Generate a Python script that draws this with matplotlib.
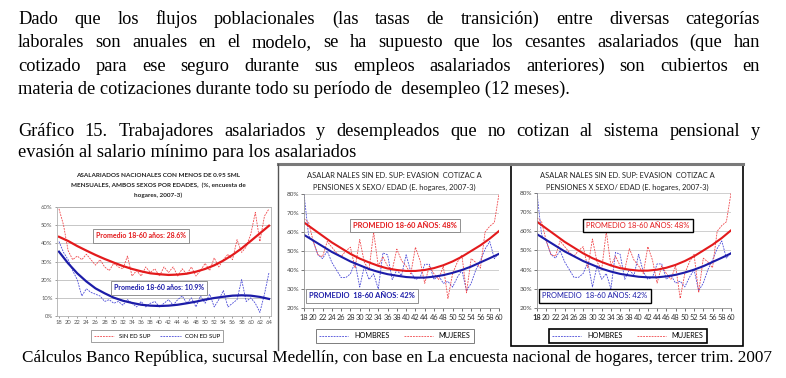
import numpy as np
import matplotlib
matplotlib.use("Agg")
import matplotlib.pyplot as plt
from matplotlib.lines import Line2D
from matplotlib.patches import Rectangle

W, H = 786, 378

# ---- datos grafico 1 (asalariados con menos de 0.95 SML) ----
edades1 = list(range(18, 65))
sin_ed_sup = [59, 50, 36, 31, 33, 31, 34, 31, 28, 31, 27, 25, 29, 27, 26, 33, 22, 25, 22, 27,
              24, 26, 22, 27, 24, 27, 22, 26, 23, 27, 22, 25, 29, 25, 32, 27, 31, 34, 31, 42,
              35, 38, 45, 57, 41, 55, 59]
con_ed_sup = [41, 35, 31, 25, 20, 11, 15, 13, 12, 11, 8, 9, 7, 8, 6, 9, 7, 5, 8, 5,
              7, 8, 5, 7, 9, 6, 9, 11, 7, 10, 5, 11, 7, 12, 5, 9, 14, 5, 7, 9,
              20, 8, 10, 7, 2, 12, 24]
tend_edades1 = list(range(18, 65, 2))
tend_sin = [43.6, 41.3, 38.5, 36, 33.6, 31.4, 29.4, 27.5, 25.9, 24.6, 23.5, 23, 22.6, 22.8,
            23.3, 24.4, 25.9, 27.9, 30.5, 33.6, 37.2, 41.3, 45.5, 49.7]
tend_con = [35.4, 29, 23.5, 19, 15.2, 12.5, 10.1, 8.4, 7.2, 6.2, 5.7, 5.5, 5.7, 6.2,
            7, 7.9, 9, 9.9, 10.6, 11.2, 11.4, 11.2, 10.5, 9.4]

# ---- datos graficos 2 y 3 (evasion cotizacion a pensiones) ----
edades2 = list(range(18, 61))
hombres = [80, 58, 55, 48, 46, 50, 44, 40, 36, 36, 38, 44, 31, 42, 35, 38, 30, 49, 48, 35,
           40, 37, 48, 39, 35, 36, 43, 43, 35, 37, 33, 34, 31, 36, 40, 29, 33, 40, 45, 51,
           55, 46, 49]
mujeres = [67, 65, 55, 48, 47, 55, 52, 49, 47, 50, 52, 41, 56, 44, 40, 60, 42, 47, 42, 40,
           51, 45, 42, 38, 52, 45, 33, 42, 38, 35, 42, 25, 38, 44, 48, 28, 46, 44, 41, 60,
           63, 65, 80]
tend_edades2 = list(range(18, 61, 2))
tend_muj = [65, 61.5, 58, 54.5, 51.5, 48.5, 46, 44, 42.2, 40.8, 40, 39.5, 39.5, 40, 41, 42.5,
            44.5, 47, 50, 53, 56.5, 60.5]
tend_hom = [58.5, 55.5, 52.5, 49.5, 47, 44.5, 42.5, 40.5, 39, 37.8, 37, 36.3, 36, 36, 36.5,
            37.3, 38.5, 40, 41.8, 44, 46.2, 48.5]

parrafo = [
    "Dado que los flujos poblacionales (las tasas de transición) entre diversas categorías",
    "laborales son anuales en el modelo, se ha supuesto que los cesantes asalariados (que han",
    "cotizado para ese seguro durante sus empleos asalariados anteriores) son cubiertos en",
    "materia de cotizaciones durante todo su período de  desempleo (12 meses).",
]
titulo = ["Gráfico 15. Trabajadores asalariados y desempleados que no cotizan al sistema pensional y",
          "evasión al salario mínimo para los asalariados"]
fuente = ("Cálculos Banco República, sucursal Medellín, con base en La encuesta nacional "
          "de hogares, tercer trim. 2007")

ROJO = "#e31a1c"
AZUL = "#1c1ca8"
ROJO_P = "#f0484c"
AZUL_P = "#4a4ad8"

fig = plt.figure(figsize=(W / 100, H / 100), dpi=100)
fig.patch.set_facecolor("white")
rend = fig.canvas.get_renderer()


def fx(x):
    return x / W


def fy(y):
    return 1 - y / H


def rect(x0, y0, x1, y1):
    return [fx(x0), fy(y1), (x1 - x0) / W, (y1 - y0) / H]


def ancho(s, size, family="Liberation Serif"):
    t = fig.text(0, 0, s, fontsize=size, family=family)
    w = t.get_window_extent(rend).width
    t.remove()
    return w


def justificar(linea, x0, x1, yb, size):
    palabras = linea.split()
    anchos = [ancho(p, size) for p in palabras]
    hueco = (x1 - x0 - sum(anchos)) / (len(palabras) - 1)
    x = x0
    for p, w in zip(palabras, anchos):
        fig.text(fx(x), fy(yb), p, fontsize=size, family="Liberation Serif", va="baseline")
        x += w + hueco


# tamano de letra ajustado al ancho de la ultima linea
size_body = 10 * 551 / ancho(parrafo[3], 10)
for i, linea in enumerate(parrafo[:3]):
    justificar(linea, 18, 760, 24 + 23.3 * i, size_body)
fig.text(fx(18), fy(24 + 23.3 * 3), parrafo[3], fontsize=size_body,
         family="Liberation Serif", va="baseline")
justificar(titulo[0], 18, 760, 136, size_body)
fig.text(fx(18), fy(157), titulo[1], fontsize=size_body, family="Liberation Serif", va="baseline")

size_fuente = 10 * 749 / ancho(fuente, 10)
fig.text(fx(22), fy(362), fuente, fontsize=size_fuente, family="Liberation Serif", va="baseline")

SANS = "Lato"
punteado = (0, (2.2, 1.2))


def caja(x, y, s, color, ec, size, weight="bold", lw=0.6):
    fig.text(fx(x), fy(y), s, color=color, fontsize=size, family=SANS, weight=weight,
             ha="center", va="center",
             bbox=dict(boxstyle="square,pad=0.45", fc="white", ec=ec, lw=lw))


# ================= grafico 1 =================
ax1 = fig.add_axes(rect(56.7, 207, 271.3, 316))
ax1.plot(edades1, sin_ed_sup, color=ROJO_P, lw=0.6, ls=punteado)
ax1.plot(edades1, con_ed_sup, color=AZUL_P, lw=0.6, ls=punteado)
ax1.plot(tend_edades1, tend_sin, color=ROJO, lw=1.6)
ax1.plot(tend_edades1, tend_con, color=AZUL, lw=1.6)
ax1.set_xlim(17.5, 64.5)
ax1.set_ylim(0, 60)
ax1.set_yticks(range(0, 61, 10))
ax1.set_yticklabels([f"{v}%" for v in range(0, 61, 10)])
ax1.set_xticks(range(18, 65, 2))
ax1.tick_params(labelsize=4.2, length=1.5, width=0.4, colors="#555555", pad=1.5)
ax1.grid(axis="y", color="#bdbdbd", lw=0.6)
ax1.set_axisbelow(True)
for s in ax1.spines.values():
    s.set_color("#b0b0b0")
    s.set_linewidth(0.6)
for lab in ax1.get_xticklabels() + ax1.get_yticklabels():
    lab.set_family(SANS)

titulo1 = ["ASALARIADOS NACIONALES CON MENOS DE 0.95 SML",
           "MENSUALES, AMBOS SEXOS POR EDADES,  (%, encuesta de",
           "hogares, 2007-3)"]
for i, t in enumerate(titulo1):
    fig.text(fx(158), fy(175 + 10 * i), t, fontsize=4.6, family=SANS, weight="bold",
             ha="center", va="center", color="#222222")
caja(141, 236, "Promedio 18-60 años: 28.6%", ROJO, "#808080", 5)
caja(159, 288, "Promedio 18-60 años: 10.9%", AZUL, "#808080", 5)
h1 = [Line2D([], [], color=ROJO_P, lw=0.6, ls=punteado),
      Line2D([], [], color=AZUL_P, lw=0.6, ls=punteado)]
ax1.legend(h1, ["SIN ED SUP", "CON ED SUP"], loc="center", bbox_to_anchor=(fx(157), fy(336)),
           bbox_transform=fig.transFigure, ncol=2, fancybox=False, edgecolor="#909090",
           prop=dict(family=SANS, size=4.3), handlelength=3.5, columnspacing=1.5,
           borderpad=0.5, framealpha=1).get_frame().set_linewidth(0.6)


# ================= graficos 2 y 3 =================
def grafico_evasion(x0, x1, y80, y20, xc, gruesa, bold_ticks):
    ax = fig.add_axes(rect(x0, y80, x1, y20))
    ax.plot(edades2, hombres, color=AZUL_P, lw=0.6, ls=punteado)
    ax.plot(edades2, mujeres, color=ROJO_P, lw=0.6, ls=punteado)
    ax.plot(tend_edades2, tend_muj, color=ROJO, lw=1.5)
    ax.plot(tend_edades2, tend_hom, color=AZUL, lw=1.5)
    ax.set_xlim(18, 60)
    ax.set_ylim(20, 80)
    ax.set_yticks(range(20, 81, 10))
    ax.set_yticklabels([f"{v}%" for v in range(20, 81, 10)])
    ax.set_xticks(range(18, 61, 2))
    ax.tick_params(axis="x", labelsize=5.3, length=2, width=0.5, colors="#333333", pad=2)
    ax.tick_params(axis="y", labelsize=4.6, length=2, width=0.5, colors="#444444", pad=1.5)
    ax.grid(axis="y", color="#c8c8c8", lw=0.6)
    ax.set_axisbelow(True)
    for s in ("top", "right"):
        ax.spines[s].set_visible(False)
    for s in ("left", "bottom"):
        ax.spines[s].set_color("#909090")
        ax.spines[s].set_linewidth(0.6)
    for lab in ax.get_xticklabels() + ax.get_yticklabels():
        lab.set_family(SANS)
    if bold_ticks:
        ax.get_xticklabels()[0].set_weight("bold")
    fig.text(fx(xc), fy(176), "ASALAR NALES SIN ED. SUP: EVASION  COTIZAC A", fontsize=5.4,
             family=SANS, ha="center", va="center", color="#222222")
    fig.text(fx(xc), fy(187), "PENSIONES X SEXO/ EDAD (E. hogares, 2007-3)", fontsize=5.4,
             family=SANS, ha="center", va="center", color="#222222")
    ec = "black" if gruesa else "#808080"
    lw = 1.0 if gruesa else 0.6
    peso = "normal" if gruesa else "bold"
    caja(xc + 11, 225.5, "PROMEDIO 18-60 AÑOS: 48%", ROJO, ec, 5.4, peso, lw)
    caja(xc - 32, 296, "PROMEDIO  18-60 AÑOS: 42%", AZUL, ec, 5.4, peso, lw)
    hh = [Line2D([], [], color=AZUL_P, lw=0.6, ls=punteado),
          Line2D([], [], color=ROJO_P, lw=0.6, ls=punteado)]
    leg = ax.legend(hh, ["HOMBRES", "MUJERES"], loc="center",
                    bbox_to_anchor=(fx(xc + 1), fy(336)), bbox_transform=fig.transFigure,
                    ncol=2, fancybox=False, edgecolor=ec, framealpha=1,
                    prop=dict(family=SANS, size=5.2), handlelength=4, columnspacing=2,
                    borderpad=0.45)
    leg.get_frame().set_linewidth(lw * 1.2)
    return ax


ax2 = grafico_evasion(304, 499, 194, 308, 394, False, False)
ax3 = grafico_evasion(537, 731, 193, 308, 627, True, True)

# marcos de los graficos pegados
fig.add_artist(Line2D([fx(278), fx(510)], [fy(164), fy(164)], color="#7a7a7a", lw=2.2))
fig.add_artist(Line2D([fx(278), fx(278)], [fy(164), fy(350)], color="#555555", lw=1.0))
fig.add_artist(Rectangle((fx(511), fy(346)), (743 - 511) / W, (346 - 164) / H,
                         fill=False, ec="black", lw=1.2, zorder=0.5))
fig.add_artist(Line2D([fx(511), fx(743)], [fy(163.5), fy(163.5)], color="#7a7a7a", lw=2.2))

fig.savefig("out.png", dpi=100, facecolor="white")
